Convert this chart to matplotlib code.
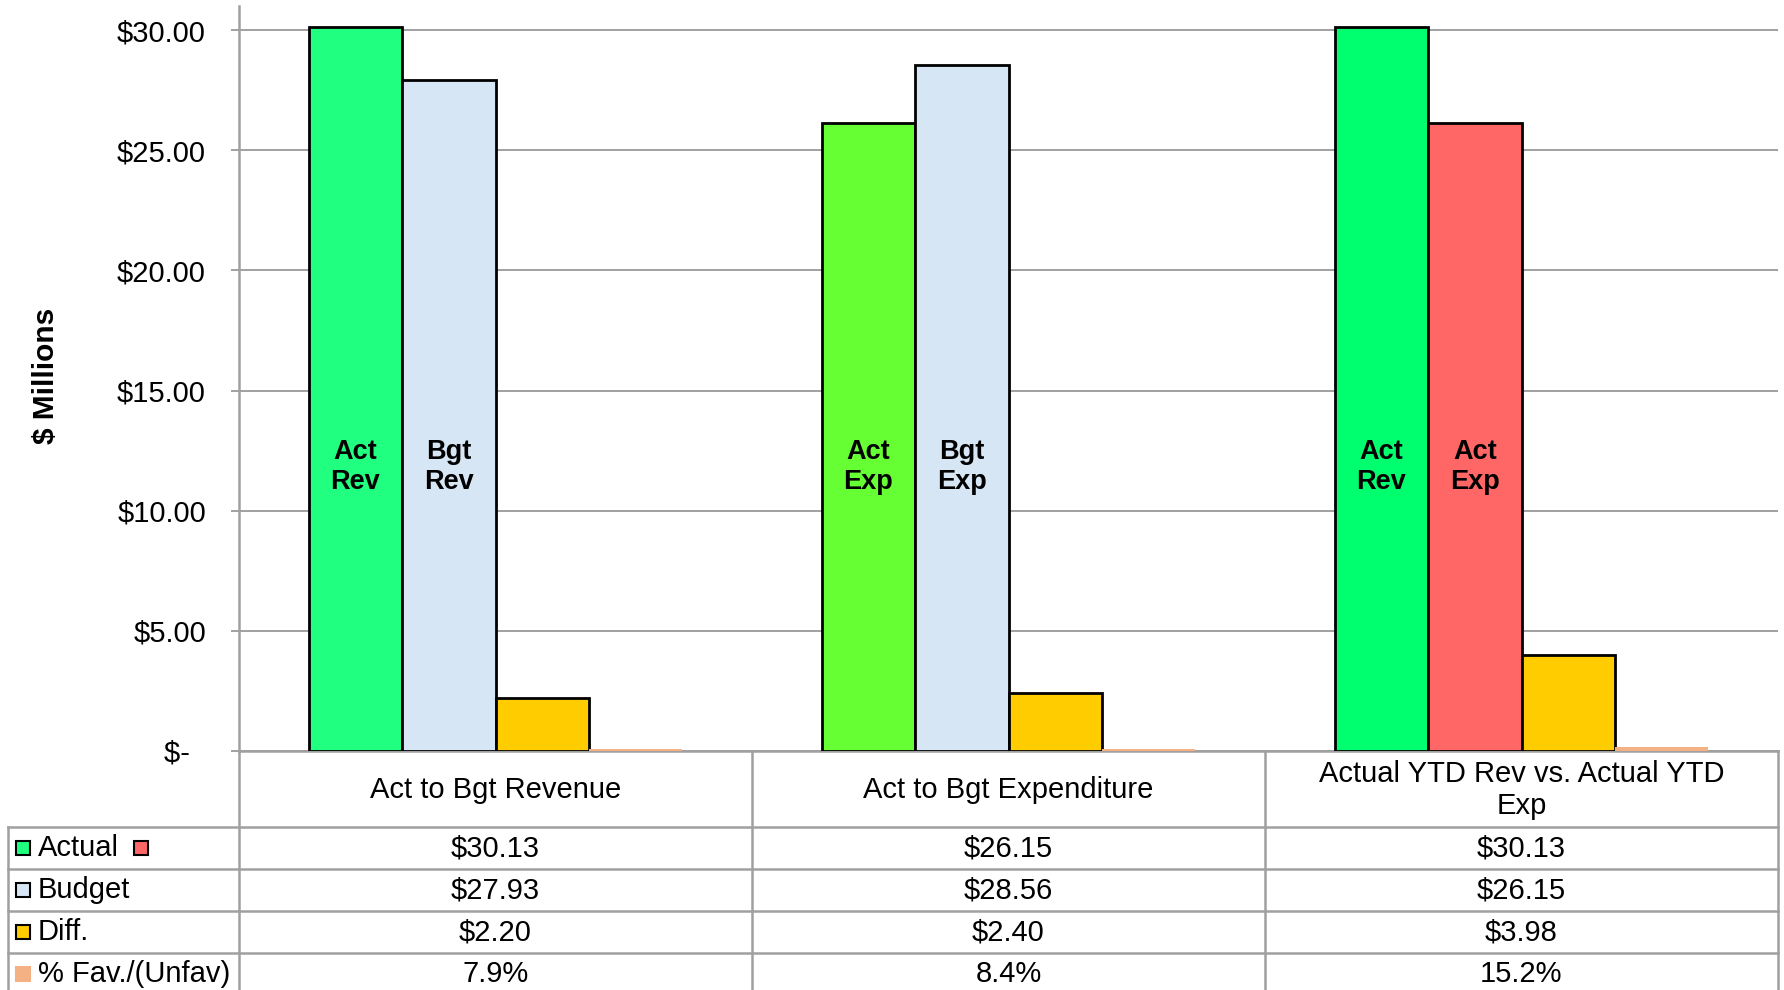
import numpy as np
import matplotlib.pyplot as plt
from matplotlib.ticker import FuncFormatter

plt.rcParams["font.family"] = ["Liberation Sans", "DejaVu Sans"]

# Data ($ millions)
categories = [
    "Act to Bgt Revenue",
    "Act to Bgt Expenditure",
    "Actual YTD Rev vs. Actual YTD\nExp",
]
actual = [30.13, 26.15, 30.13]
budget = [27.93, 28.56, 26.15]
diff = [2.20, 2.40, 3.98]
pct_fav = [7.9, 8.4, 15.2]

first_labels = ["Act\nRev", "Act\nExp", "Act\nRev"]
second_labels = ["Bgt\nRev", "Bgt\nExp", "Act\nExp"]
row_names = ["Actual", "Budget", "Diff.", "% Fav./(Unfav)"]
y_ticks = [0, 5, 10, 15, 20, 25, 30]

# Colours
actual_colors = ["#20FF80", "#66FF33", "#00FF6E"]
second_colors = ["#D7E6F5", "#D7E6F5", "#FF6666"]
DIFF_COLOR = "#FFCC00"
PCT_COLOR = "#F4B183"
LINE_GRAY = "#A0A0A0"

FS = 21
W, H = 1784, 990
ax_left, ax_right = 239 / W, 1778 / W
ax_bottom = (H - 751) / H
ax_top = (H - 6) / H

fig = plt.figure(figsize=(W / 100, H / 100), dpi=100)
ax = fig.add_axes([ax_left, ax_bottom, ax_right - ax_left, ax_top - ax_bottom])

"""
========================= Bars =========================
"""
x = np.arange(len(categories))
w = 0.182
ax.bar(x - 1.5 * w, actual, w, color=actual_colors,
       edgecolor="black", linewidth=2.0, zorder=3)
ax.bar(x - 0.5 * w, budget, w, color=second_colors,
       edgecolor="black", linewidth=2.0, zorder=3)
ax.bar(x + 0.5 * w, diff, w, color=DIFF_COLOR,
       edgecolor="black", linewidth=2.0, zorder=3)
ax.bar(x + 1.5 * w, np.array(pct_fav) / 100, w, color=PCT_COLOR,
       linewidth=0, zorder=3)

label_y = 11.8
for i in range(len(categories)):
    ax.text(x[i] - 1.5 * w, label_y, first_labels[i], ha="center",
            va="center", fontsize=19.5, fontweight="bold", zorder=5)
    ax.text(x[i] - 0.5 * w, label_y, second_labels[i], ha="center",
            va="center", fontsize=19.5, fontweight="bold", zorder=5)

ax.set_xlim(-0.5, 2.5)
ax.set_ylim(0, 31)
ax.set_yticks(y_ticks)
ax.yaxis.set_major_formatter(
    FuncFormatter(lambda v, _: "$-  " if v == 0 else f"${v:.2f}")
)
ax.tick_params(axis="y", length=5.8, width=1.4, color=LINE_GRAY,
               pad=18, labelsize=FS)
ax.set_xticks([])
ax.yaxis.grid(True, color=LINE_GRAY, linewidth=1.4)
ax.set_axisbelow(True)
for side in ["top", "right"]:
    ax.spines[side].set_visible(False)
for side in ["left", "bottom"]:
    ax.spines[side].set_color(LINE_GRAY)
    ax.spines[side].set_linewidth(1.8)

fig.text(46 / W, 1 - 376 / H, "$ Millions", rotation=90, fontsize=21.5,
         fontweight="bold", ha="center", va="center")

"""
========================= Data table =========================
"""
tab = fig.add_axes([ax_left, 0, ax_right - ax_left, ax_bottom])
header_h = 1.81
tab.set_xlim(-0.5, 2.5)
tab.set_ylim(-3.88, header_h)
tab.axis("off")

left_edge = -0.95
kw = dict(color=LINE_GRAY, linewidth=1.8, clip_on=False)
for xv in [-0.5, 0.5, 1.5, 2.5]:
    tab.plot([xv, xv], [-3.88, header_h], **kw)
tab.plot([left_edge, left_edge], [-3.88, 0], **kw)
for yv in [0, -1, -2, -3]:
    tab.plot([left_edge, 2.5], [yv, yv], **kw)

for i, cat in enumerate(categories):
    tab.text(i, header_h / 2 - 0.03, cat, ha="center", va="center",
             fontsize=FS)

rows = [
    [f"${v:.2f}" for v in actual],
    [f"${v:.2f}" for v in budget],
    [f"${v:.2f}" for v in diff],
    [f"{v:.1f}%" for v in pct_fav],
]
for r, vals in enumerate(rows):
    yc = -0.5 - r
    for i, s in enumerate(vals):
        tab.text(i, yc, s, ha="center", va="center", fontsize=FS)
    tab.text(-0.892, yc, row_names[r], ha="left", va="center", fontsize=FS)

# legend keys in the row-name column
key_colors = [actual_colors[0], second_colors[0], DIFF_COLOR, PCT_COLOR]
key_edges = ["black", "black", "black", PCT_COLOR]
for r in range(len(row_names)):
    tab.plot(-0.921, -0.5 - r, marker="s", markersize=9.5,
             markerfacecolor=key_colors[r], markeredgecolor=key_edges[r],
             markeredgewidth=1.5, clip_on=False)
tab.plot(-0.691, -0.5, marker="s", markersize=9.5,
         markerfacecolor=second_colors[2], markeredgecolor="black",
         markeredgewidth=1.5, clip_on=False)

plt.savefig("out.png", dpi=100)
